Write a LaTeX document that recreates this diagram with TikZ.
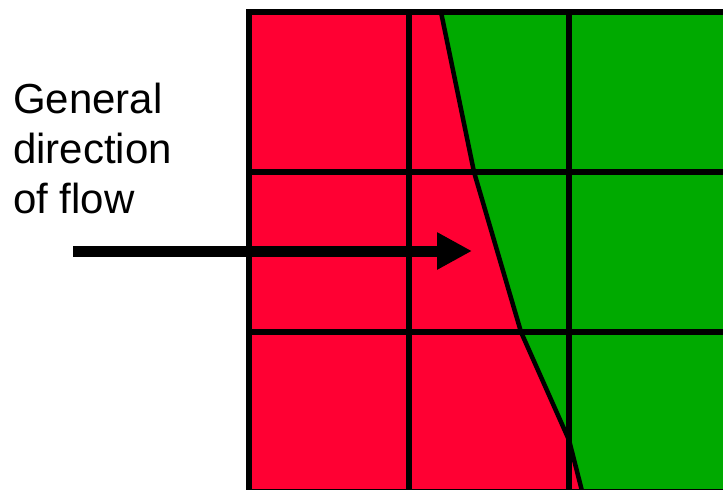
\documentclass[tikz,border=0pt]{standalone}
\usepackage{fontspec}
\setmainfont{Liberation Sans}
\usetikzlibrary{arrows.meta}
\definecolor{zonered}{RGB}{255,0,51}
\definecolor{zonegreen}{RGB}{0,170,0}
\tikzset{
  gridline/.style={line width=6pt, draw=black},
  front/.style={line width=4.5pt, draw=black, line join=round},
  flowarrow/.style={line width=11pt, -{Triangle[length=35pt,width=35pt]}},
  label/.style={align=left, inner sep=0pt, anchor=north west,
    font=\fontsize{42pt}{50pt}\selectfont}
}
\begin{document}
\begin{tikzpicture}[x=1pt,y=-1pt]
  \useasboundingbox (0,0) rectangle (723,490);
  % front between the two regions
  \coordinate (f0) at (441,12);
  \coordinate (f1) at (474,172);
  \coordinate (f2) at (521,332);
  \coordinate (f3) at (569,440);
  \coordinate (f4) at (583,495);
  % regions
  \fill[zonered] (249,12) -- (f0) -- (f1) -- (f2) -- (f3) -- (f4) -- (249,495) -- cycle;
  \fill[zonegreen] (f0) -- (723,12) -- (723,495) -- (f4) -- (f3) -- (f2) -- (f1) -- cycle;
  \draw[front] (f0) -- (f1) -- (f2) -- (f3) -- (f4);
  % grid
  \foreach \gx in {249,409,569}
    \draw[gridline] (\gx,9) -- (\gx,495);
  \foreach \gy in {12,172,332,492}
    \draw[gridline] (246,\gy) -- (726,\gy);
  % label and arrow
  \node[label] (caption) at (13,83) {General\\direction\\of flow};
  \coordinate (flowstart) at (73,251);
  \coordinate (flowend) at (472,251);
  \draw[flowarrow] (flowstart) -- (flowend);
\end{tikzpicture}
\end{document}
